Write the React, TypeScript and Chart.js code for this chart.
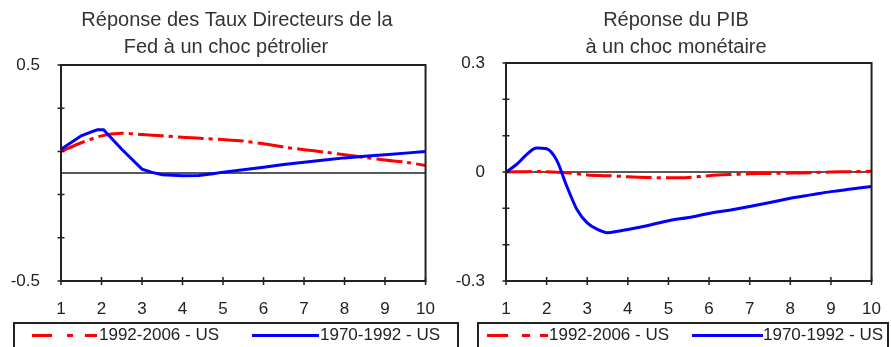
import React, { useEffect, useRef } from "react";
import { Chart, registerables } from "chart.js";

Chart.register(...registerables);

const FONT = "'Liberation Sans', Arial, sans-serif";
const RED = "#ff0000";
const BLUE = "#0000ff";
const INK = "#222222";

// Horizon (quarters after the shock)
const horizonTicks = [1, 2, 3, 4, 5, 6, 7, 8, 9, 10];

// Left panel: Fed policy rate response to an oil shock
const fedTitle = ["Réponse des Taux Directeurs de la", "Fed à un choc pétrolier"];
const fedYLabels = [-0.5, 0, 0.5];
const fedRecentX = [1, 1.5, 2, 2.5, 3, 3.5, 4, 4.5, 5, 5.5, 6, 6.5, 7, 7.5, 8, 8.5, 9, 9.5, 10];
const fedRecentY = [0.1, 0.14, 0.172, 0.184, 0.178, 0.172, 0.165, 0.16, 0.155, 0.148, 0.135, 0.12, 0.108, 0.097, 0.085, 0.072, 0.06, 0.05, 0.035];
const fedEarlyX = [1, 1.5, 1.75, 1.9, 2.05, 2.5, 3, 3.25, 3.5, 4, 4.4, 4.75, 5, 5.5, 6, 6.5, 7, 7.5, 8, 8.5, 9, 9.5, 10];
const fedEarlyY = [0.11, 0.172, 0.19, 0.2, 0.2, 0.11, 0.018, 0.003, -0.008, -0.013, -0.012, -0.003, 0.004, 0.015, 0.027, 0.039, 0.05, 0.06, 0.07, 0.077, 0.085, 0.092, 0.1];

// Right panel: GDP response to a monetary shock
const gdpTitle = ["Réponse du PIB", "à un choc monétaire"];
const gdpYLabels = [-0.3, 0, 0.3];
const gdpRecentX = [1, 1.5, 2, 2.5, 3, 3.5, 4, 4.5, 5, 5.5, 6, 6.5, 7, 7.5, 8, 8.5, 9, 9.5, 10];
const gdpRecentY = [0, 0.001, 0.001, -0.002, -0.008, -0.01, -0.013, -0.015, -0.016, -0.015, -0.01, -0.007, -0.005, -0.004, -0.003, -0.002, 0, 0.001, 0.002];
const gdpEarlyX = [1, 1.25, 1.5, 1.75, 2, 2.25, 2.5, 2.75, 3, 3.25, 3.5, 3.75, 4, 4.5, 5, 5.5, 6, 6.5, 7, 7.5, 8, 8.5, 9, 9.5, 10];
const gdpEarlyY = [0, 0.02, 0.047, 0.066, 0.064, 0.032, -0.04, -0.104, -0.14, -0.158, -0.167, -0.163, -0.158, -0.147, -0.134, -0.125, -0.114, -0.105, -0.095, -0.084, -0.072, -0.063, -0.054, -0.047, -0.04];

const seriesRecent = "1992-2006 - US";
const seriesEarly = "1970-1992 - US";

const recentDash = [26, 5, 4, 5];

// Draws the two-line panel heading, the zero line, the plot frame and the crossing tick marks
const framePlugin = {
  id: "irfFrame",
  beforeDatasetsDraw(chart: any, _args: any, opts: any) {
    const { ctx, chartArea: a, scales } = chart;
    ctx.save();
    ctx.fillStyle = "#333333";
    ctx.font = `20px ${FONT}`;
    ctx.textAlign = "center";
    ctx.textBaseline = "middle";
    (opts.lines || []).forEach((line: string, i: number) => {
      ctx.fillText(line, opts.centers[i], opts.rows[i]);
    });
    const y0 = scales.y.getPixelForValue(0);
    ctx.strokeStyle = INK;
    ctx.lineWidth = 1.5;
    ctx.beginPath();
    ctx.moveTo(a.left, y0);
    ctx.lineTo(a.right, y0);
    ctx.stroke();
    ctx.restore();
  },
  afterDatasetsDraw(chart: any) {
    const { ctx, chartArea: a, scales } = chart;
    ctx.save();
    ctx.strokeStyle = INK;
    ctx.lineWidth = 2;
    ctx.strokeRect(a.left, a.top, a.right - a.left, a.bottom - a.top);
    ctx.lineWidth = 1.5;
    ctx.beginPath();
    scales.y.ticks.forEach((t: any) => {
      const py = scales.y.getPixelForValue(t.value);
      ctx.moveTo(a.left - 3.5, py);
      ctx.lineTo(a.left + 3.5, py);
    });
    scales.x.ticks.forEach((t: any) => {
      const px = scales.x.getPixelForValue(t.value);
      ctx.moveTo(px, a.bottom - 4);
      ctx.lineTo(px, a.bottom + 4);
    });
    ctx.stroke();
    ctx.restore();
  },
};

type PanelProps = {
  title: string[];
  titleCenters: number[];
  titleRows: number[];
  yMax: number;
  yLabels: number[];
  recentX: number[];
  recentY: number[];
  earlyX: number[];
  earlyY: number[];
  smooth: boolean;
  width: number;
  top: number;
};

function Panel(p: PanelProps) {
  const ref = useRef<HTMLCanvasElement | null>(null);
  useEffect(() => {
    if (!ref.current) return;
    const chart = new Chart(ref.current, {
      type: "line",
      data: {
        datasets: [
          {
            label: seriesEarly,
            data: p.earlyX.map((x, i) => ({ x, y: p.earlyY[i] })),
            borderColor: BLUE,
            borderWidth: 3,
            pointRadius: 0,
            fill: false,
            cubicInterpolationMode: p.smooth ? "monotone" : "default",
            tension: 0,
          },
          {
            label: seriesRecent,
            data: p.recentX.map((x, i) => ({ x, y: p.recentY[i] })),
            borderColor: RED,
            borderWidth: 3,
            borderDash: recentDash,
            pointRadius: 0,
            fill: false,
            tension: 0.3,
          },
        ],
      },
      options: {
        animation: false,
        responsive: false,
        maintainAspectRatio: false,
        layout: { padding: { top: p.top, right: 11, left: 0, bottom: 0 } },
        plugins: {
          legend: { display: false },
          tooltip: { enabled: false },
          title: { display: false },
          irfFrame: { lines: p.title, centers: p.titleCenters, rows: p.titleRows },
        },
        scales: {
          x: {
            type: "linear",
            min: horizonTicks[0],
            max: horizonTicks[horizonTicks.length - 1],
            afterBuildTicks: (s: any) => {
              s.ticks = horizonTicks.map((v) => ({ value: v }));
            },
            ticks: { color: INK, font: { family: FONT, size: 17 }, padding: 10, maxRotation: 0 },
            grid: { display: false },
            border: { display: false },
            afterFit: (s: any) => {
              s.height = 66;
            },
          },
          y: {
            min: -p.yMax,
            max: p.yMax,
            ticks: {
              stepSize: 0.1,
              color: INK,
              font: { family: FONT, size: 17 },
              padding: 13,
              callback: (v: any) => {
                const hit = p.yLabels.find((l) => Math.abs(l - Number(v)) < 1e-6);
                return hit === undefined ? "" : String(hit);
              },
            },
            grid: { display: false },
            border: { display: false },
            afterFit: (s: any) => {
              s.width = 61;
            },
          },
        },
      },
      plugins: [framePlugin],
    } as any);
    return () => chart.destroy();
  }, []);
  return <canvas ref={ref} width={p.width} height={347} style={{ display: "block", width: p.width, height: 347 }} />;
}

function Segments({ color, segs, y }: { color: string; segs: number[][]; y: number }) {
  return (
    <>
      {segs.map(([a, b], i) => (
        <div key={i} style={{ position: "absolute", left: a, top: y - 1.5, width: b - a, height: 3, background: color }} />
      ))}
    </>
  );
}

const textStyle = (left: number): React.CSSProperties => ({
  position: "absolute",
  left,
  top: 325,
  fontFamily: FONT,
  fontSize: 17,
  lineHeight: "20px",
  color: INK,
  whiteSpace: "nowrap",
});

export default function App() {
  useEffect(() => {
    document.body.style.margin = "0";
  }, []);
  return (
    <div style={{ position: "absolute", left: 0, top: 0, width: 891, height: 347, overflow: "hidden", background: "#fff" }}>
      <div style={{ position: "absolute", left: 0, top: 0 }}>
        <Panel title={fedTitle} titleCenters={[237, 226]} titleRows={[20.5, 47.5]} yMax={0.5} yLabels={fedYLabels} recentX={fedRecentX} recentY={fedRecentY} earlyX={fedEarlyX} earlyY={fedEarlyY} smooth={false} width={445} top={65} />
      </div>
      <div style={{ position: "absolute", left: 445, top: 0 }}>
        <Panel title={gdpTitle} titleCenters={[231, 231]} titleRows={[20.5, 47.5]} yMax={0.3} yLabels={gdpYLabels} recentX={gdpRecentX} recentY={gdpRecentY} earlyX={gdpEarlyX} earlyY={gdpEarlyY} smooth={true} width={446} top={63} />
      </div>

      <div style={{ position: "absolute", left: 13, top: 322, width: 446, height: 40, border: `2px solid ${INK}`, boxSizing: "border-box" }} />
      <Segments color={RED} segs={[[32, 52], [67, 73], [85, 97]]} y={335} />
      <div style={textStyle(99)}>{seriesRecent}</div>
      <Segments color={BLUE} segs={[[252, 319]]} y={335} />
      <div style={textStyle(320)}>{seriesEarly}</div>

      <div style={{ position: "absolute", left: 477, top: 322, width: 412, height: 40, border: `2px solid ${INK}`, boxSizing: "border-box" }} />
      <Segments color={RED} segs={[[487, 508], [522, 530], [540, 548]]} y={335} />
      <div style={textStyle(549)}>{seriesRecent}</div>
      <Segments color={BLUE} segs={[[692, 763]]} y={335} />
      <div style={textStyle(763)}>{seriesEarly}</div>
    </div>
  );
}
